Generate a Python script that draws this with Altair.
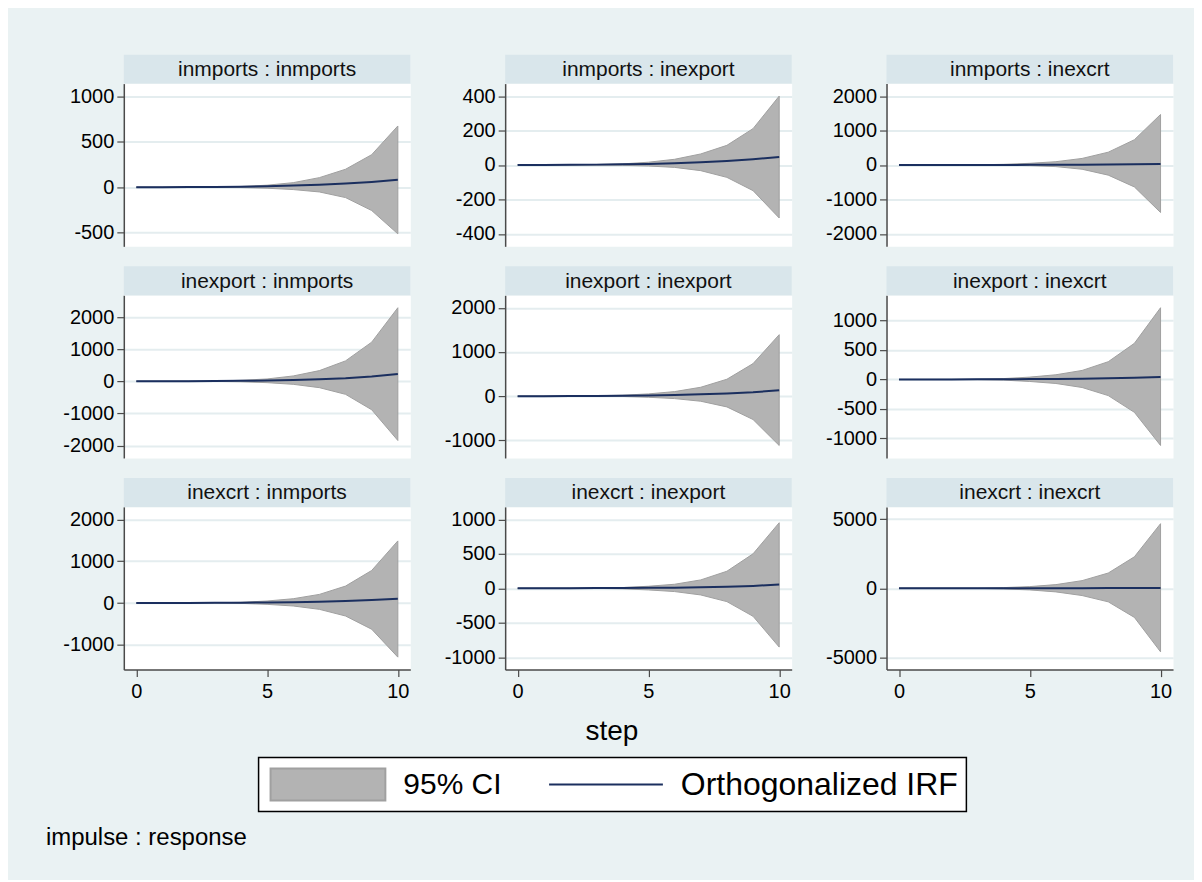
import altair as alt
import pandas as pd

# ---------------- data ----------------
steps = [0, 1, 2, 3, 4, 5, 6, 7, 8, 9, 10]

panel_titles = [
    "inmports : inmports", "inmports : inexport", "inmports : inexcrt",
    "inexport : inmports", "inexport : inexport", "inexport : inexcrt",
    "inexcrt : inmports", "inexcrt : inexport", "inexcrt : inexcrt",
]

irf_1 = [0, 0.8, 2, 3.5, 6, 11, 18, 28, 40, 58, 82]
lo_1 = [-1, -1.5, -2, -3, -4, -11, -26, -52, -114, -256, -512]
up_1 = [1, 1.5, 2.5, 4, 8, 22, 50, 105, 197, 357, 672]
ticks_1 = [-500, 0, 500, 1000]

irf_2 = [0, 0.5, 1, 2, 3.5, 6, 10, 16, 23, 33, 46]
lo_2 = [0, -0.5, -1, -1.5, -2, -6, -14, -33, -72, -149, -308]
up_2 = [0.5, 1, 2, 3, 6, 16, 33, 64, 114, 211, 400]
ticks_2 = [-400, -200, 0, 200, 400]

irf_3 = [0, 0.2, 0.5, 1, 2, 3, 5, 8, 12, 18, 25]
lo_3 = [-0.5, -1, -2, -4, -8, -19, -48, -124, -295, -638, -1380]
up_3 = [0.5, 1, 2, 5, 19, 48, 95, 190, 371, 733, 1466]
ticks_3 = [-2000, -1000, 0, 1000, 2000]

irf_4 = [0, 1.5, 3.5, 7, 14, 25, 40, 62, 94, 146, 229]
lo_4 = [-0.5, -0.5, -1, -3, -15, -42, -94, -198, -406, -886, -1844]
up_4 = [0.5, 2, 5, 10, 31, 73, 167, 333, 636, 1219, 2292]
ticks_4 = [-2000, -1000, 0, 1000, 2000]

irf_5 = [1, 2, 4, 7, 12, 19, 29, 43, 62, 90, 133]
lo_5 = [0, 0, 0.5, 0, -5, -23, -53, -113, -241, -526, -1113]
up_5 = [2, 4, 7, 12, 23, 53, 105, 203, 384, 737, 1391]
ticks_5 = [-1000, 0, 1000, 2000]

irf_6 = [0, 0.5, 1, 2, 3.5, 6, 9, 13, 19, 28, 44]
lo_6 = [-0.5, -0.5, -1, -3, -11, -34, -68, -136, -273, -557, -1119]
up_6 = [0.5, 1, 2, 5, 15, 40, 80, 153, 301, 613, 1216]
ticks_6 = [-1000, -500, 0, 500, 1000]

irf_7 = [0, 1, 2, 4, 7, 12, 20, 32, 48, 71, 103]
lo_7 = [-0.5, 0, 0, -1, -8, -32, -71, -151, -310, -627, -1294]
up_7 = [0.5, 1.5, 3, 6, 16, 48, 103, 206, 405, 778, 1485]
ticks_7 = [-1000, 0, 1000, 2000]

irf_8 = [0, 0.5, 1, 2, 3.5, 6, 9, 14, 21, 34, 55]
lo_8 = [-0.5, -0.5, -1, -2, -8, -24, -48, -97, -194, -407, -854]
up_8 = [0.5, 1, 2, 4, 10, 29, 58, 121, 247, 500, 951]
ticks_8 = [-1000, -500, 0, 500, 1000]

irf_9 = [1, 1, 1.5, 2, 3, 4, 6, 9, 12, 17, 24]
lo_9 = [0, -1, -2, -7, -48, -120, -264, -529, -986, -2115, -4616]
up_9 = [2, 3, 5, 10, 48, 120, 264, 553, 1106, 2284, 4688]
ticks_9 = [-5000, 0, 5000]

x_ticks = [0, 5, 10]
legend_labels = ["95% CI", "Orthogonalized IRF"]
x_title = "step"
note_text = "impulse : response"

# ---------------- style ----------------
FONT = "Liberation Sans"
PW, PH, STRIP = 287, 163, 29
BG = "#eaf2f3"
STRIP_C = "#d9e6eb"
GRID_C = "#e4edef"
AXIS_C = "#4a4a4a"
AREA_C = "#b3b3b3"
AREA_EDGE = "#a0a0a0"
LINE_C = "#1b2f5f"
MARGIN_PX = 12.5
TICK_FS = 20


def make_panel(title, irf, lo, up, ticks, bottom):
    df = pd.DataFrame({"step": steps, "irf": irf, "lo": lo, "up": up})
    dmin = min(min(lo), min(ticks))
    dmax = max(max(up), max(ticks))
    pad = (dmax - dmin) * MARGIN_PX / (PH - 2 * MARGIN_PX)
    yscale = alt.Scale(domain=[dmin - pad, dmax + pad], nice=False, zero=False)
    xpad = 10 * MARGIN_PX / (PW - 2 * MARGIN_PX)
    xscale = alt.Scale(domain=[-xpad, 10 + xpad], nice=False, zero=False)
    yaxis = alt.Axis(
        values=ticks, labelExpr="'' + datum.value", grid=True, gridColor=GRID_C,
        gridWidth=2, domainColor=AXIS_C, domainWidth=1.5, tickColor=AXIS_C,
        tickWidth=1.2, tickSize=7, labelPadding=3, labelFont=FONT,
        labelFontSize=TICK_FS, labelColor="#000000", labelOverlap=False,
        labelFlush=False, title=None,
    )
    if bottom:
        xaxis = alt.Axis(
            values=x_ticks, grid=False, domainColor=AXIS_C, domainWidth=1.5,
            tickColor=AXIS_C, tickWidth=1.2, tickSize=7, labelPadding=5,
            labelFont=FONT, labelFontSize=TICK_FS, labelColor="#000000",
            labelOverlap=False, labelFlush=False, title=None,
        )
        x_enc = alt.X("step:Q", scale=xscale, axis=xaxis)
    else:
        x_enc = alt.X("step:Q", scale=xscale, axis=None)

    base = alt.Chart(df)
    area = base.mark_area(
        fill=AREA_C, stroke=AREA_EDGE, strokeWidth=1, opacity=1
    ).encode(
        x=x_enc,
        y=alt.Y("lo:Q", scale=yscale, axis=yaxis),
        y2="up:Q",
    )
    line = base.mark_line(color=LINE_C, strokeWidth=2).encode(
        x=x_enc,
        y=alt.Y("irf:Q", scale=yscale, axis=yaxis),
    )
    tdf = pd.DataFrame({"t": [title]})
    strip = alt.Chart(tdf).mark_rect(fill=STRIP_C).encode(
        x=alt.value(0), x2=alt.value(PW), y=alt.value(-STRIP), y2=alt.value(0)
    )
    txt = alt.Chart(tdf).mark_text(
        font=FONT, fontSize=21, color="#111111", align="center", baseline="middle"
    ).encode(x=alt.value(PW / 2), y=alt.value(-STRIP / 2 + 1), text="t:N")
    return alt.layer(area, line, strip, txt).properties(
        width=PW, height=PH,
        view=alt.ViewBackground(fill="white", stroke="transparent"),
    )


series = [
    (irf_1, lo_1, up_1, ticks_1), (irf_2, lo_2, up_2, ticks_2), (irf_3, lo_3, up_3, ticks_3),
    (irf_4, lo_4, up_4, ticks_4), (irf_5, lo_5, up_5, ticks_5), (irf_6, lo_6, up_6, ticks_6),
    (irf_7, lo_7, up_7, ticks_7), (irf_8, lo_8, up_8, ticks_8), (irf_9, lo_9, up_9, ticks_9),
]

cells = []
for i, (irf, lo, up, ticks) in enumerate(series):
    cells.append(make_panel(panel_titles[i], irf, lo, up, ticks, bottom=(i >= 6)))


# ---------------- bottom: axis title, legend, note ----------------
def one(t):
    return alt.Chart(pd.DataFrame({"t": [t]}))


step_lbl = one(x_title).mark_text(
    font=FONT, fontSize=28, color="#000000", align="center", baseline="middle"
).encode(x=alt.value(489), y=alt.value(13), text="t:N")
box = one("box").mark_rect(fill="white", stroke="#000000", strokeWidth=1.5).encode(
    x=alt.value(135), x2=alt.value(844), y=alt.value(39), y2=alt.value(93)
)
swatch = one("sw").mark_rect(fill=AREA_C, stroke=AREA_EDGE, strokeWidth=2).encode(
    x=alt.value(147), x2=alt.value(262), y=alt.value(50), y2=alt.value(82)
)
ci_lbl = one(legend_labels[0]).mark_text(
    font=FONT, fontSize=30, color="#000000", align="left", baseline="middle"
).encode(x=alt.value(280), y=alt.value(67), text="t:N")
leg_line = one("ln").mark_rule(color=LINE_C, strokeWidth=2).encode(
    x=alt.value(426), x2=alt.value(540), y=alt.value(66)
)
irf_lbl = one(legend_labels[1]).mark_text(
    font=FONT, fontSize=32, color="#000000", align="left", baseline="middle"
).encode(x=alt.value(558), y=alt.value(67), text="t:N")
note = one(note_text).mark_text(
    font=FONT, fontSize=24, color="#000000", align="left", baseline="middle"
).encode(x=alt.value(-78), y=alt.value(120), text="t:N")

bottom_cell = alt.layer(step_lbl, box, swatch, ci_lbl, leg_line, irf_lbl, note).properties(
    width=PW, height=1,
    view=alt.ViewBackground(fill="transparent", stroke="transparent"),
)
cells.append(bottom_cell)

chart = alt.concat(
    *cells, columns=3, spacing={"row": 49, "column": 95}, bounds="flush"
).properties(
    background=BG,
    padding={"left": 37, "top": 45, "right": 20, "bottom": 28},
).configure_view(stroke="transparent")

chart.save("out.html", embed_options={"renderer": "svg", "actions": False})
